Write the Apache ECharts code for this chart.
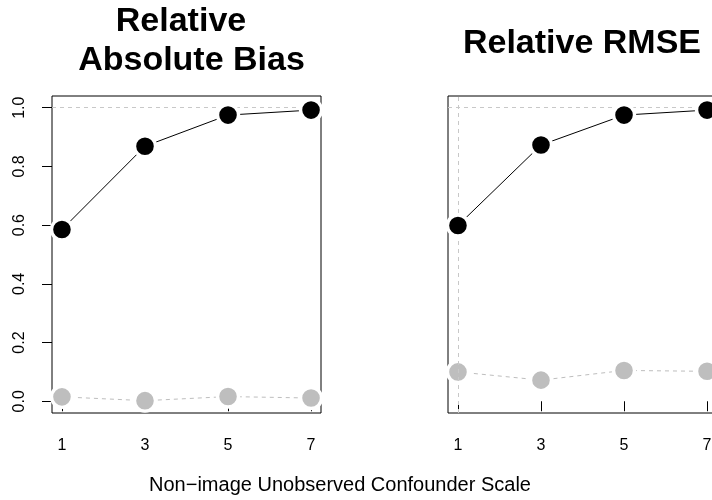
<!DOCTYPE html>
<html>
<head>
<meta charset="utf-8">
<script src="https://cdn.jsdelivr.net/npm/echarts@6/dist/echarts.min.js"></script>
<style>html,body{margin:0;padding:0;background:#fff}#c{width:712px;height:500px}</style>
</head>
<body>
<div id="c"></div>
<script>
// ---- data ----
var scales = [1, 3, 5, 7];
var xTicks = [1, 3, 5, 7];
var yTicks = [0, 0.2, 0.4, 0.6, 0.8, 1.0];
var biasMain = [0.585, 0.869, 0.975, 0.992];
var biasRef = [0.015, 0.002, 0.016, 0.011];
var rmseMain = [0.599, 0.873, 0.975, 0.992];
var rmseRef = [0.100, 0.072, 0.105, 0.102];
var refLevel = 1.0;
var refScale = 1;

var FONT = 'Liberation Sans, Arial, Helvetica, sans-serif';
function pairs(xs, ys) { return xs.map(function (x, i) { return [x, ys[i]]; }); }

var chart = echarts.init(document.getElementById('c'), null, {renderer: 'canvas'});

function xAxisDef(gi) {
  return {
    type: 'value', gridIndex: gi, min: 0.76, max: 7.24,
    axisLine: {show: false},
    splitLine: {show: false},
    axisTick: {show: true, inside: false, length: 10, customValues: xTicks, lineStyle: {color: '#000', width: 1}},
    axisLabel: {show: true, margin: 25, customValues: xTicks, color: '#000', fontSize: 16, fontFamily: FONT}
  };
}
function yAxisDef(gi, labels) {
  return {
    type: 'value', gridIndex: gi, min: -0.04, max: 1.04,
    axisLine: {show: false},
    splitLine: {show: false},
    axisTick: {show: labels, inside: false, length: 10, customValues: yTicks, lineStyle: {color: '#000', width: 1}},
    axisLabel: {show: labels, margin: 24, rotate: 90, customValues: yTicks, color: '#000', fontSize: 16, fontFamily: FONT,
      formatter: function (v) { return Number(v).toFixed(1); }}
  };
}
function mainSeries(gi, vals) {
  return {
    type: 'line', xAxisIndex: gi, yAxisIndex: gi, data: pairs(scales, vals),
    symbol: 'circle', symbolSize: 21, z: 5,
    lineStyle: {color: '#000', width: 1},
    itemStyle: {color: '#000', borderColor: '#fff', borderWidth: 3.4}
  };
}
function refSeries(gi, vals) {
  return {
    type: 'line', xAxisIndex: gi, yAxisIndex: gi, data: pairs(scales, vals),
    symbol: 'circle', symbolSize: 21, z: 4,
    lineStyle: {color: '#bebebe', width: 1, type: [4, 4]},
    itemStyle: {color: '#bebebe', borderColor: '#fff', borderWidth: 3.4}
  };
}
function markSeries(gi, withVertical) {
  var d = [{yAxis: refLevel}];
  if (withVertical) d.push({xAxis: refScale});
  return {
    type: 'line', xAxisIndex: gi, yAxisIndex: gi, data: [], z: 10,
    markLine: {
      silent: true, symbol: ['none', 'none'], label: {show: false}, animation: false,
      lineStyle: {color: '#c8c8c8', width: 1, type: [4, 4]},
      data: d
    }
  };
}

var titleStyle = {fontSize: 34, fontWeight: 'bold', fontFamily: FONT, color: '#000'};
chart.setOption({
  animation: false,
  backgroundColor: '#fff',
  title: [
    {text: 'Relative', left: 181, top: 5, textAlign: 'center', textStyle: titleStyle, padding: 0},
    {text: 'Absolute Bias', left: 191.5, top: 44, textAlign: 'center', textStyle: titleStyle, padding: 0},
    {text: 'Relative RMSE', left: 582, top: 27, textAlign: 'center', textStyle: titleStyle, padding: 0},
    {text: 'Non\u2212image Unobserved Confounder Scale', left: 340, top: 475, textAlign: 'center', padding: 0,
      textStyle: {fontSize: 20, fontWeight: 'normal', fontFamily: FONT, color: '#000'}}
  ],
  grid: [
    {left: 52, top: 96, width: 269, height: 317, show: true, borderColor: '#000', borderWidth: 1, backgroundColor: 'transparent', containLabel: false, outerBoundsMode: 'none'},
    {left: 448, top: 96, width: 269, height: 317, show: true, borderColor: '#000', borderWidth: 1, backgroundColor: 'transparent', containLabel: false, outerBoundsMode: 'none'}
  ],
  xAxis: [xAxisDef(0), xAxisDef(1)],
  yAxis: [yAxisDef(0, true), yAxisDef(1, false)],
  series: [
    refSeries(0, biasRef), mainSeries(0, biasMain), markSeries(0, false),
    refSeries(1, rmseRef), mainSeries(1, rmseMain), markSeries(1, true)
  ]
});
</script>
</body>
</html>
